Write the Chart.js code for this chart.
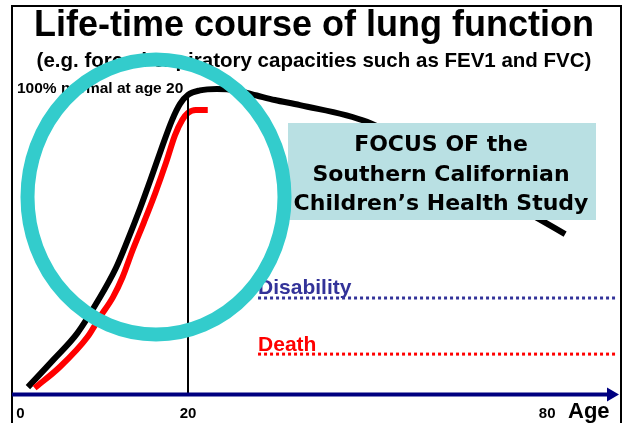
<!DOCTYPE html>
<html><head><meta charset="utf-8">
<script src="https://cdn.jsdelivr.net/npm/chart.js@4.4.1/dist/chart.umd.min.js"></script>
<style>html,body{margin:0;padding:0;background:#fff;overflow:hidden}canvas{display:block}</style>
</head><body><canvas id="c" width="627" height="423"></canvas>
<script>
// ---- data (schematic: age in years, lung function in % of normal at age 20) ----
const xTickValues = [0, 20, 80];
const xTickLabels = ['0', '20', '80'];
const normalAges   = [0.9, 3.9, 6.8, 9.3, 11.4, 12.8, 14.3, 15.6, 16.9, 18.1, 19.05, 20, 22, 24.8, 27.9, 31.5, 34.5, 38.7, 49.9, 63.8, 78.3, 83.0];
const normalValues = [2.3, 11.3, 20.3, 31.3, 42, 51.3, 62, 72, 82.3, 91.3, 96.7, 99.7, 101.2, 101.7, 101.3, 99.5, 98, 96.3, 90.7, 75.5, 58.7, 53.3];
const impairedAges   = [1.7, 4.7, 8.0, 9.5, 11.05, 12.2, 13.4, 14.75, 16.1, 17.4, 18.45, 19.3, 20, 21.3, 23.3];
const impairedValues = [2, 9, 19, 25.7, 32.3, 39, 48, 57.3, 67, 77.3, 86.3, 91.3, 93.7, 94.7, 94.7];
const referenceAge = 20;
const referenceTop = 99;
const thresholdAges = [31.7, 91.5];
const disabilityLevel = 32;
const deathLevel = 13.3;

const FONT = '"Liberation Sans", Arial, sans-serif';
const BREAK_AGE = 20;
const BREAK_FRACTION = (188 - 12) / (616 - 12);

class BrokenAgeScale extends Chart.LinearScale {
  getPixelForValue(value) {
    if (value === null || value === undefined) return NaN;
    const min = this.min, max = this.max;
    const dec = value <= BREAK_AGE
      ? (value - min) / (BREAK_AGE - min) * BREAK_FRACTION
      : BREAK_FRACTION + (value - BREAK_AGE) / (max - BREAK_AGE) * (1 - BREAK_FRACTION);
    return this.getPixelForDecimal(dec);
  }
  getValueForPixel(pixel) {
    const dec = this.getDecimalForPixel(pixel);
    const min = this.min, max = this.max;
    return dec <= BREAK_FRACTION
      ? min + dec / BREAK_FRACTION * (BREAK_AGE - min)
      : BREAK_AGE + (dec - BREAK_FRACTION) / (1 - BREAK_FRACTION) * (max - BREAK_AGE);
  }
}
BrokenAgeScale.id = 'brokenAge';
BrokenAgeScale.defaults = Chart.LinearScale.defaults;
Chart.register(BrokenAgeScale);

const toPts = (xs, ys) => xs.map((x, i) => ({x: x, y: ys[i]}));

const decor = {
  id: 'decor',
  beforeDraw(chart) {
    const c = chart.ctx;
    const y = chart.scales.y;
    c.save();
    c.fillStyle = '#fff';
    c.fillRect(0, 0, chart.width, chart.height);
    c.strokeStyle = '#000';
    c.lineWidth = 2;
    c.strokeRect(12, 6, 609, 440);
    c.fillStyle = '#000';
    c.textAlign = 'center';
    c.textBaseline = 'alphabetic';
    c.font = 'bold 36px ' + FONT;
    c.fillText('Life-time course of lung function', 314, 36);
    c.font = 'bold 20.5px ' + FONT;
    c.fillText('(e.g. forced expiratory capacities such as FEV1 and FVC)', 314, 67);
    c.textAlign = 'left';
    c.font = 'bold 15.5px ' + FONT;
    c.fillText('100% normal at age 20', 17, y.getPixelForValue(100) - 1);
    c.restore();
  },
  afterDatasetsDraw(chart) {
    const c = chart.ctx;
    const xs = chart.scales.x, ys = chart.scales.y;
    const a = chart.chartArea;
    c.save();
    // x axis arrow
    const ay = a.bottom + 0.5;
    c.strokeStyle = '#000080';
    c.fillStyle = '#000080';
    c.lineWidth = 4;
    c.beginPath();
    c.moveTo(12, ay);
    c.lineTo(609, ay);
    c.stroke();
    c.beginPath();
    c.moveTo(607, ay - 7);
    c.lineTo(619, ay);
    c.lineTo(607, ay + 7);
    c.closePath();
    c.fill();
    // Age label
    c.fillStyle = '#000';
    c.font = 'bold 22px ' + FONT;
    c.textAlign = 'left';
    c.textBaseline = 'alphabetic';
    c.fillText('Age', 568, 418);
    // threshold labels
    c.font = 'bold 21px ' + FONT;
    const lx = xs.getPixelForValue(thresholdAges[0]);
    c.fillStyle = '#333399';
    c.fillText('Disability', lx, ys.getPixelForValue(disabilityLevel) - 4.5);
    c.fillStyle = '#ff0000';
    c.fillText('Death', lx, ys.getPixelForValue(deathLevel) - 3.5);
    // focus box
    c.fillStyle = '#B9E0E3';
    c.fillRect(288, 123, 308, 97);
    c.fillStyle = '#000';
    c.textAlign = 'center';
    c.font = 'bold 22px "DejaVu Sans", sans-serif';
    c.fillText('FOCUS OF the', 441, 151);
    c.fillText('Southern Californian', 441, 181);
    c.fillText('Children\u2019s Health Study', 441, 210);
    // circle
    c.strokeStyle = '#33CCCC';
    c.lineWidth = 14;
    c.beginPath();
    c.ellipse(156, 197, 128.5, 137.5, 0, 0, Math.PI * 2);
    c.stroke();
    c.restore();
  }
};

new Chart(document.getElementById('c').getContext('2d'), {
  type: 'line',
  data: {
    datasets: [
      {label: 'age 20', data: toPts([referenceAge, referenceAge], [0, referenceTop]), borderColor: '#000', borderWidth: 2, pointRadius: 0},
      {label: 'Disability', data: toPts(thresholdAges, [disabilityLevel, disabilityLevel]), borderColor: '#333399', borderWidth: 3, borderDash: [3, 3], pointRadius: 0},
      {label: 'Death', data: toPts(thresholdAges, [deathLevel, deathLevel]), borderColor: '#ff0000', borderWidth: 3, borderDash: [3, 3], pointRadius: 0},
      {label: 'impaired', data: toPts(impairedAges, impairedValues), borderColor: '#ff0000', borderWidth: 6, pointRadius: 0, cubicInterpolationMode: 'monotone'},
      {label: 'normal', data: toPts(normalAges, normalValues), borderColor: '#000', borderWidth: 6, pointRadius: 0, cubicInterpolationMode: 'monotone'}
    ]
  },
  options: {
    responsive: false,
    animation: false,
    events: [],
    devicePixelRatio: 1,
    layout: {padding: {left: 12, right: 11, top: 79, bottom: 0}},
    plugins: {legend: {display: false}, title: {display: false}, tooltip: {enabled: false}},
    scales: {
      x: {
        type: 'brokenAge', min: -1, max: 91.5,
        grid: {display: false}, border: {display: false},
        afterBuildTicks: s => { s.ticks = xTickValues.map(v => ({value: v})); },
        afterFit: s => { s.height = 29; },
        ticks: {autoSkip: false, maxRotation: 0, padding: 3, color: '#000',
          font: {family: FONT, size: 15, weight: 'bold'},
          callback: (v, i) => xTickLabels[i]}
      },
      y: {type: 'linear', min: 0, max: 105, display: false}
    }
  },
  plugins: [decor]
});
</script></body></html>
